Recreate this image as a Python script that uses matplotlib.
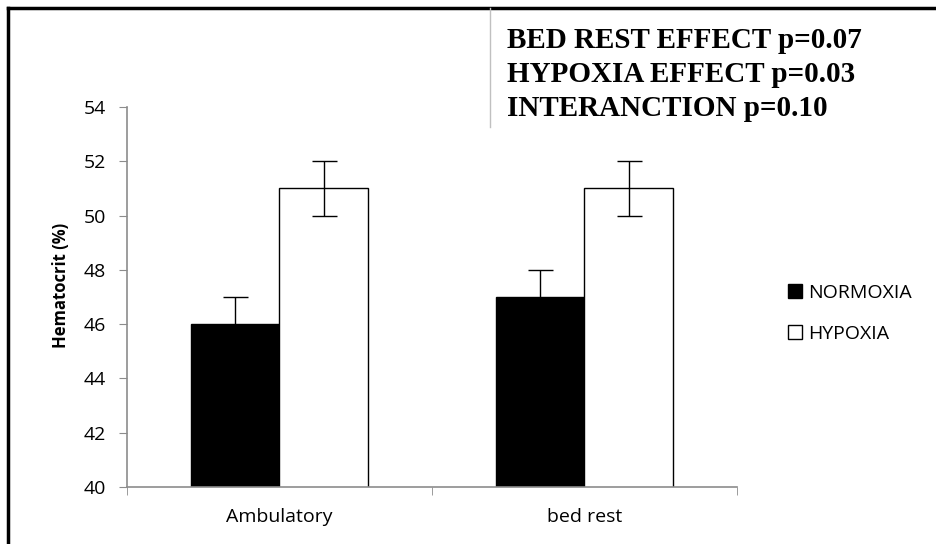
import numpy as np
import matplotlib
matplotlib.use('Agg')
import matplotlib.pyplot as plt
from matplotlib.lines import Line2D
from matplotlib.patches import Patch

# data
categories = ['Ambulatory', 'bed rest']
normoxia = [46, 47]
hypoxia = [51, 51]
normoxia_err = [1, 1]
hypoxia_err = [1, 1]
yticks = [40, 42, 44, 46, 48, 50, 52, 54]
stats_text = ['BED REST EFFECT p=0.07', 'HYPOXIA EFFECT p=0.03', 'INTERANCTION p=0.10']

plt.rcParams['font.family'] = ['Open Sans', 'DejaVu Sans']

W, H = 937, 544
fig = plt.figure(figsize=(W / 100, H / 100), dpi=100)
ax = fig.add_axes([127 / W, 1 - 487 / H, (737 - 127) / W, (487 - 107) / H])

x = np.arange(len(categories))
bw = 0.29
ax.bar(x - bw / 2, normoxia, bw, color='black', edgecolor='black', lw=1, label='NORMOXIA', zorder=2)
ax.bar(x + bw / 2, hypoxia, bw, color='white', edgecolor='black', lw=1, label='HYPOXIA', zorder=2)
ax.errorbar(x - bw / 2, normoxia, yerr=normoxia_err, fmt='none', ecolor='black', elinewidth=1, capsize=9, capthick=1, zorder=1)
ax.errorbar(x + bw / 2, hypoxia, yerr=hypoxia_err, fmt='none', ecolor='black', elinewidth=1, capsize=9, capthick=1, zorder=3)

ax.set_ylim(40, 54)
ax.set_xlim(-0.5, len(categories) - 0.5)
ax.set_yticks(yticks)
ax.set_xticks(x)
ax.set_xticklabels(categories)
ax.set_xticks(np.arange(-0.5, len(categories)), minor=True)
ax.tick_params(axis='x', which='major', length=0, pad=15, labelsize=14)
ax.tick_params(axis='x', which='minor', length=6, color='#8c8c8c', direction='out')
ax.tick_params(axis='y', length=6, color='#8c8c8c', labelsize=14, pad=9)
for s in ['top', 'right']:
    ax.spines[s].set_visible(False)
for s in ['left', 'bottom']:
    ax.spines[s].set_color('#8c8c8c')
    ax.spines[s].set_linewidth(1.2)
ax.set_ylabel('Hematocrit (%)', fontsize=12, fontweight='bold')
ax.yaxis.set_label_coords(-0.093, 0.53)

handles = [Patch(facecolor='black', edgecolor='black'), Patch(facecolor='white', edgecolor='black')]
fig.legend(handles, ['NORMOXIA', 'HYPOXIA'], loc='upper left', bbox_to_anchor=(771 / W, 1 - 266 / H),
           frameon=False, fontsize=14, handlelength=0.7, handleheight=0.7, handletextpad=0.3,
           labelspacing=1.2)

# statistics box
for i, t in enumerate(stats_text):
    fig.text(507 / W, 1 - (48 + i * 34) / H, t, family='Liberation Serif', fontweight='bold',
             fontsize=21, va='baseline', ha='left')

# page border lines
fig.add_artist(Line2D([8 / W, 8 / W], [0, 1 - 8 / H], color='black', lw=2.5))
fig.add_artist(Line2D([8 / W, 1], [1 - 8 / H, 1 - 8 / H], color='black', lw=2.5))
fig.add_artist(Line2D([490 / W, 490 / W], [1 - 127 / H, 1 - 8 / H], color='#c0c0c0', lw=1))

fig.savefig('out.png', dpi=100)
